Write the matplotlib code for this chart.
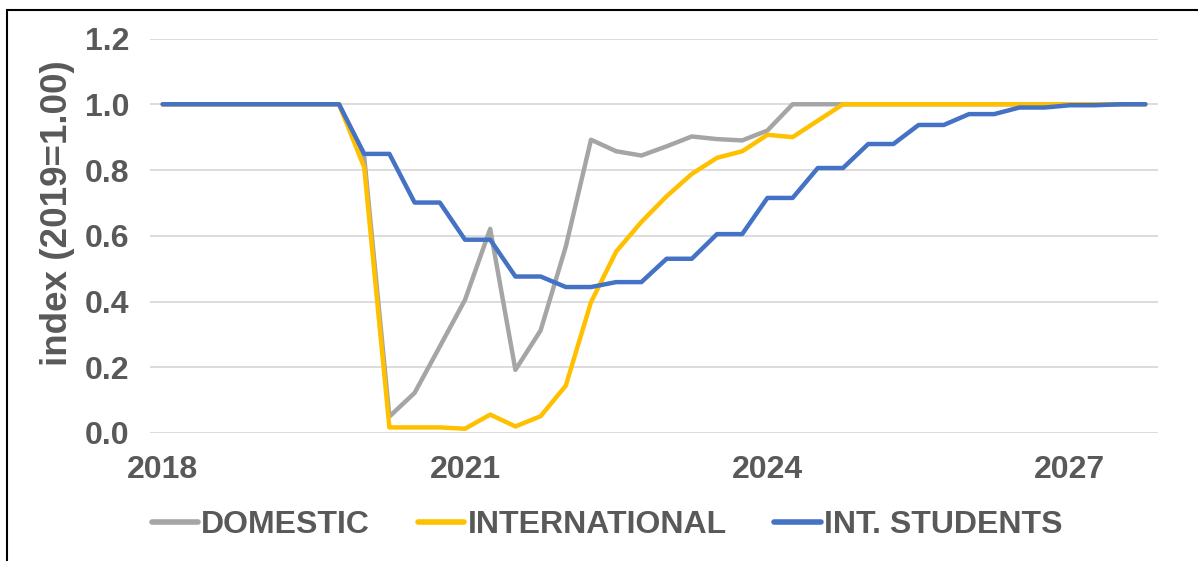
import matplotlib
matplotlib.use("Agg")
import matplotlib.pyplot as plt
from matplotlib.patches import Rectangle

plt.rcParams['font.family'] = ['Liberation Sans', 'DejaVu Sans']

# quarterly categories 2018Q1 .. 2027Q4
quarters = [f"{y}Q{q}" for y in range(2018, 2028) for q in range(1, 5)]
tick_labels = ["2018", "2021", "2024", "2027"]

domestic = [1.0, 1.0, 1.0, 1.0, 1.0, 1.0, 1.0, 1.0,
            0.84, 0.05, 0.122, 0.263, 0.405, 0.621, 0.192, 0.312,
            0.567, 0.892, 0.857, 0.844, 0.872, 0.902, 0.894, 0.89,
            0.92, 1.0, 1.0, 1.0, 1.0, 1.0, 1.0, 1.0,
            1.0, 1.0, 1.0, 1.0, 1.0, 1.0, 1.0, 1.0]
international = [1.0, 1.0, 1.0, 1.0, 1.0, 1.0, 1.0, 1.0,
                 0.808, 0.017, 0.017, 0.017, 0.013, 0.056, 0.02, 0.051,
                 0.144, 0.398, 0.552, 0.642, 0.72, 0.788, 0.837, 0.857,
                 0.907, 0.90, 0.95, 1.0, 1.0, 1.0, 1.0, 1.0,
                 1.0, 1.0, 1.0, 1.0, 1.0, 1.0, 1.0, 1.0]
int_students = [1.0, 1.0, 1.0, 1.0, 1.0, 1.0, 1.0, 1.0,
                0.849, 0.849, 0.701, 0.701, 0.588, 0.588, 0.476, 0.476,
                0.444, 0.444, 0.459, 0.459, 0.53, 0.53, 0.605, 0.605,
                0.715, 0.715, 0.806, 0.806, 0.879, 0.879, 0.937, 0.937,
                0.97, 0.97, 0.99, 0.99, 0.997, 0.997, 1.0, 1.0]

txt = '#595959'
W, H = 1198, 561
fig = plt.figure(figsize=(W/100, H/100), dpi=100)
ax = fig.add_axes([150/W, 1-433/H, (1158-150)/W, (433-38.5)/H])

x = list(range(len(quarters)))
ax.plot(x, domestic, color='#A5A5A5', lw=3.2, label='DOMESTIC', solid_capstyle='round', solid_joinstyle='round')
ax.plot(x, international, color='#FFC000', lw=3.2, label='INTERNATIONAL', solid_capstyle='round', solid_joinstyle='round')
ax.plot(x, int_students, color='#4472C4', lw=3.2, label='INT. STUDENTS', solid_capstyle='round', solid_joinstyle='round')

ax.set_xlim(-0.5, len(quarters)-0.5)
ax.set_ylim(0, 1.2)
ax.set_yticks([0, 0.2, 0.4, 0.6, 0.8, 1.0, 1.2])
ax.set_yticklabels([f"{v:.1f}" for v in [0, 0.2, 0.4, 0.6, 0.8, 1.0, 1.2]])
ax.set_xticks(x[::12])
ax.set_xticklabels(tick_labels)
ax.tick_params(axis='both', length=0, labelsize=23, labelcolor=txt)
ax.tick_params(axis='y', pad=15)
ax.tick_params(axis='x', pad=16)
for lab in ax.get_xticklabels() + ax.get_yticklabels():
    lab.set_fontweight('bold')
ax.grid(axis='y', color='#D9D9D9', lw=1.3)
ax.set_axisbelow(True)
for s in ax.spines.values():
    s.set_visible(False)

fig.text(58/W, 1-213/H, 'index (2019=1.00)', rotation=90, ha='center', va='center',
         fontsize=26.5, fontweight='bold', color=txt)

leg = fig.legend(loc='center', bbox_to_anchor=(607/W, 1-525/H), ncol=3, frameon=False,
                 handlelength=1.45, handletextpad=0.1, columnspacing=1.5,
                 prop={'size': 23, 'weight': 'bold'})
for t in leg.get_texts():
    t.set_color(txt)
for h in leg.legend_handles:
    h.set_linewidth(4)

fig.patches.append(Rectangle((7/W, -0.1), 1.2, 1.1-10/H, transform=fig.transFigure,
                             fill=False, edgecolor='black', lw=1.5))

fig.savefig('out.png', dpi=100)
